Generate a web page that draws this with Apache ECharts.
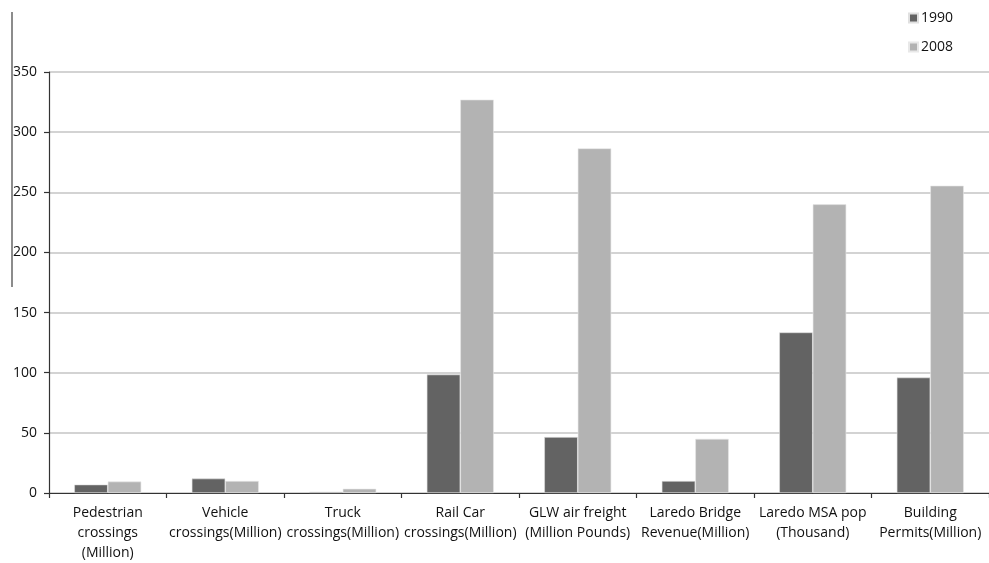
<!DOCTYPE html>
<html>
<head>
<meta charset="utf-8">
<script src="https://cdn.jsdelivr.net/npm/echarts@6/dist/echarts.min.js"></script>
<style>
  html, body { margin: 0; padding: 0; background: #fff; }
  #chart { width: 989px; height: 563px; }
</style>
</head>
<body>
<div id="chart"></div>
<script>
// Indicators for the Laredo border region, 1990 vs 2008
const categories = [
  'Pedestrian\ncrossings\n(Million)',
  'Vehicle\ncrossings(Million)',
  'Truck\ncrossings(Million)',
  'Rail Car\ncrossings(Million)',
  'GLW air freight\n(Million Pounds)',
  'Laredo Bridge\nRevenue(Million)',
  'Laredo MSA pop\n(Thousand)',
  'Building\nPermits(Million)'
];
const values1990 = [7, 12, 1, 98.5, 46.5, 10, 133.5, 96];
const values2008 = [9.5, 10, 3.5, 327, 286.5, 45, 240, 255.5];
const seriesNames = ['1990', '2008'];
const yTicks = { min: 0, max: 350, step: 50 };

const font = '"Open Sans", "Noto Sans", sans-serif';
const chart = echarts.init(document.getElementById('chart'), null, { renderer: 'canvas' });

chart.setOption({
  backgroundColor: '#ffffff',
  animation: false,
  color: ['#636363', '#b3b3b3'],
  textStyle: { fontFamily: font },
  legend: {
    orient: 'vertical',
    left: 903,
    top: 6,
    itemWidth: 9,
    itemHeight: 9,
    itemGap: 15,
    icon: 'rect',
    data: seriesNames,
    textStyle: { fontFamily: font, fontSize: 14, color: '#111', padding: [0, 0, 0, -2] }
  },
  grid: { left: 49, right: -9, top: 72, bottom: 66, containLabel: false },
  xAxis: {
    type: 'category',
    data: categories,
    axisLine: { lineStyle: { color: '#333', width: 1.2 } },
    axisTick: { show: true, length: 5, lineStyle: { color: '#333', width: 1.2 } },
    axisLabel: {
      interval: 0,
      margin: 10,
      fontSize: 14,
      lineHeight: 20,
      color: '#111',
      fontFamily: font
    }
  },
  yAxis: {
    type: 'value',
    min: yTicks.min,
    max: yTicks.max,
    interval: yTicks.step,
    axisLine: { show: true, lineStyle: { color: '#333', width: 1.2 } },
    axisTick: { show: true, length: 5, lineStyle: { color: '#333', width: 1.2 } },
    splitLine: { show: true, lineStyle: { color: '#c4c4c4', width: 1.5 } },
    axisLabel: { fontSize: 14, color: '#111', margin: 12, fontFamily: font }
  },
  graphic: [{
    type: 'line',
    shape: { x1: 12, y1: 12, x2: 12, y2: 287 },
    style: { stroke: '#666', lineWidth: 1.5 }
  }],
  series: [
    {
      name: seriesNames[0],
      type: 'bar',
      data: values1990,
      barGap: '0%',
      barCategoryGap: '43%',
      itemStyle: { borderColor: '#e0e0e0', borderWidth: 0.6 }
    },
    {
      name: seriesNames[1],
      type: 'bar',
      data: values2008,
      barGap: '0%',
      barCategoryGap: '43%',
      itemStyle: { borderColor: '#e8e8e8', borderWidth: 0.6 }
    }
  ]
});
</script>
</body>
</html>
